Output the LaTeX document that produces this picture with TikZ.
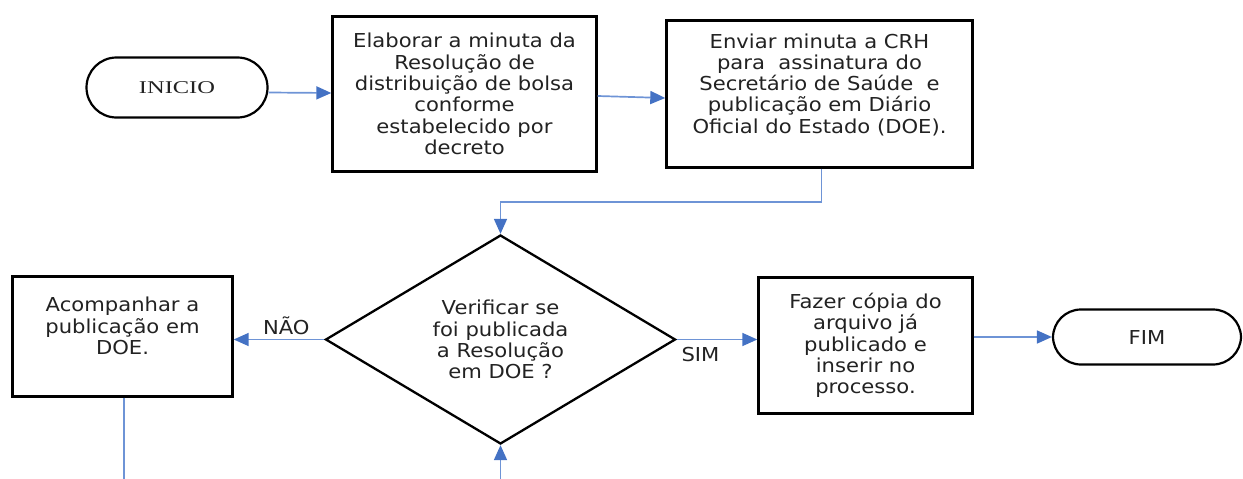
\documentclass[tikz,border=0pt]{standalone}
\usepackage{fontspec}
\setmainfont{DejaVu Sans}[FakeStretch=1.1]
\newfontfamily\serifx{Liberation Serif}
\usetikzlibrary{shapes.geometric, arrows.meta, calc}
\definecolor{lineblue}{RGB}{110,148,214}
\definecolor{tipblue}{RGB}{68,114,196}
\definecolor{txt}{RGB}{34,34,34}
\begin{document}
\begin{tikzpicture}[x=1pt, y=-1pt,
  every node/.style={text=txt, font=\fontsize{19.2}{21.3}\selectfont},
  box/.style={draw=black, line width=2.4pt, rectangle, inner sep=0pt, align=center},
  term/.style={draw=black, line width=2.2pt, rectangle, rounded corners=#1, inner sep=0pt, align=center},
  decision/.style={draw=black, line width=2.3pt, diamond, aspect=1.67, inner sep=0pt, align=center},
  conn/.style={draw=lineblue, line width=1.7pt},
  arr/.style={conn, -{Triangle[length=15pt, width=13pt, color=tipblue]}},
  lbl/.style={inner sep=0pt}
]
\useasboundingbox (0,0) rectangle (1243,479);

% nodes
\node[term=30pt, minimum width=181pt, minimum height=60pt] (ini) at (177,87.5)
  {\scalebox{1.36}[1]{\serifx\fontsize{18}{20}\selectfont INICIO}};
\node[box, minimum width=264pt, minimum height=155pt] (b1) at (464.5,94)
  {Elaborar a minuta da\\Resolução de\\distribuição de bolsa\\conforme\\estabelecido por\\decreto};
\node[box, minimum width=306pt, minimum height=147pt] (b2) at (819.5,94)
  {Enviar minuta a CRH\\para~ assinatura do\\Secretário de Saúde~ e\\publicação em Diário\\Oficial do Estado (DOE).\\\mbox{}};
\node[decision, minimum width=350pt, minimum height=209pt] (dia) at (500.5,339.5)
  {Verificar se\\foi publicada\\a Resolução\\em DOE ?};
\node[box, minimum width=220pt, minimum height=120pt] (b3) at (122.5,336.5)
  {Acompanhar a\\publicação em\\DOE.\\\mbox{}};
\node[box, minimum width=214pt, minimum height=136pt] (b4) at (865.5,345.5)
  {Fazer cópia do\\arquivo já\\publicado e\\inserir no\\processo.};
\node[term=28pt, minimum width=188pt, minimum height=55pt] (fim) at (1147,337) {FIM};

% free-end / bend coordinates
\coordinate (bend) at (821.5,202);
\coordinate (b3end) at (124,479);
\coordinate (diain) at (500.5,479);

% connectors
\draw[arr] ([yshift=-5pt]ini.east) -- ([yshift=1pt]b1.west);
\draw[arr] ([yshift=-2pt]b1.east) -- ([yshift=-4pt]b2.west);
\draw[arr] (b2.south -| bend) -- (bend) -| (dia.north);
\draw[arr] (dia.west) -- (b3.east |- dia.west)
  node[lbl, pos=0.42, anchor=south, yshift=4pt] {NÃO};
\draw[arr] (dia.east) -- (b4.west |- dia.east)
  node[lbl, pos=0, anchor=north west, xshift=4pt, yshift=-7pt] {SIM};
\draw[arr] (b4.east |- fim.west) -- (fim.west);
\draw[conn] (b3.south -| b3end) -- (b3end);
\draw[arr] (diain) -- (dia.south);
\end{tikzpicture}
\end{document}
